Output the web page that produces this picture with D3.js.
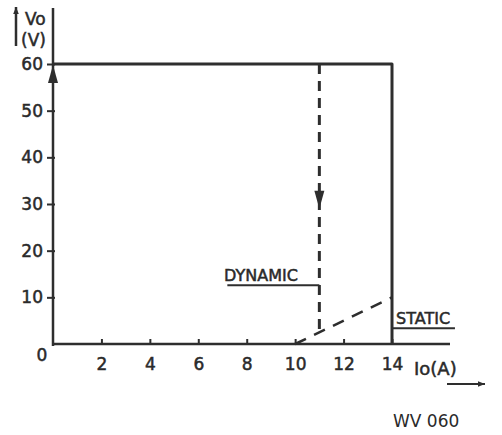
<!DOCTYPE html>
<html>
<head>
<meta charset="utf-8">
<script src="https://cdn.jsdelivr.net/npm/d3@7"></script>
<style>
  body { margin: 0; background: #fff; }
  svg text { font-family: "DejaVu Sans", sans-serif; fill: #2a2a2a; stroke: #2a2a2a; stroke-width: 0.5px; }
  svg text.code { stroke: none; }
</style>
</head>
<body>
<svg class="chart" width="502" height="435"></svg>
<script>
// 軸刻度
const xTicks = [2, 4, 6, 8, 10, 12, 14];
const yTicks = [10, 20, 30, 40, 50, 60];

// STATIC 曲線
const staticI = [0, 14, 14];
const staticV = [60, 60, 0];

// DYNAMIC 曲線 (虛線)
const dynDownI = [11, 11];
const dynDownV = [60, 2.5];
const dynRampI = [10, 14];
const dynRampV = [0, 10];

// 標籤引線
const dynLabelI = [7.2, 11];
const dynLabelV = [12.6, 12.6];
const staLabelI = [14, 16.6];
const staLabelV = [3.4, 3.4];

const ink = "#2e2e2e";

const svg = d3.select(".chart");

const xScale = d3.scaleLinear().domain([0, 14]).range([53, 392]);
const yScale = d3.scaleLinear().domain([0, 60]).range([344, 64]);

const line = d3.line().x(d => xScale(d[0])).y(d => yScale(d[1]));
const zip = (a, b) => a.map((v, i) => [v, b[i]]);

svg.append("defs").append("marker")
    .attr("id", "arr")
    .attr("viewBox", "0 0 10 10")
    .attr("refX", 10).attr("refY", 5)
    .attr("markerWidth", 9).attr("markerHeight", 7)
    .attr("markerUnits", "userSpaceOnUse")
    .attr("orient", "auto")
    .append("path").attr("d", "M0,1 L10,5 L0,9 Z").attr("fill", ink);

// X軸
const xAxis = d3.axisBottom(xScale).tickValues(xTicks).tickSize(0).tickPadding(14);
const gx = svg.append("g").attr("transform", `translate(0, ${yScale(0)})`).call(xAxis);
gx.select(".domain").remove();
gx.selectAll("text").attr("font-size", 17).attr("fill", ink);
gx.selectAll(".tick").append("line").attr("y1", 0).attr("y2", -5)
    .attr("stroke", ink).attr("stroke-width", 2);
svg.append("line")
    .attr("x1", xScale(0)).attr("x2", 450)
    .attr("y1", yScale(0)).attr("y2", yScale(0))
    .attr("stroke", ink).attr("stroke-width", 2.5);

// Y軸
const yAxis = d3.axisLeft(yScale).tickValues(yTicks).tickSize(0).tickPadding(10);
const gy = svg.append("g").attr("transform", `translate(${xScale(0)}, 0)`).call(yAxis);
gy.select(".domain").remove();
gy.selectAll("text").attr("font-size", 17).attr("fill", ink);
gy.selectAll(".tick").append("line").attr("x1", -6).attr("x2", 2)
    .attr("stroke", ink).attr("stroke-width", 2);
svg.append("line")
    .attr("x1", xScale(0)).attr("x2", xScale(0))
    .attr("y1", yScale(0) + 2).attr("y2", 8)
    .attr("stroke", ink).attr("stroke-width", 2.5);

svg.append("text").attr("x", 42).attr("y", 361).attr("text-anchor", "middle")
    .attr("font-size", 17).text("0");

// STATIC
svg.append("path").datum(zip(staticI, staticV)).attr("d", line)
    .attr("fill", "none").attr("stroke", ink).attr("stroke-width", 3)
    .attr("stroke-linejoin", "round");

// 60V 上箭頭
svg.append("path")
    .attr("d", `M${xScale(0) - 5},${yScale(60) + 19} L${xScale(0)},${yScale(60) + 1} L${xScale(0) + 5},${yScale(60) + 19} Z`)
    .attr("fill", ink);

// DYNAMIC
svg.append("path").datum(zip(dynDownI, dynDownV)).attr("d", line)
    .attr("fill", "none").attr("stroke", ink).attr("stroke-width", 3)
    .attr("stroke-dasharray", "10,7");
svg.append("path").datum(zip(dynRampI, dynRampV)).attr("d", line)
    .attr("fill", "none").attr("stroke", ink).attr("stroke-width", 2.5)
    .attr("stroke-dasharray", "12,9");

// 下箭頭
const ax = xScale(11), ay = yScale(29);
svg.append("path")
    .attr("d", `M${ax - 5},${ay - 18} L${ax},${ay} L${ax + 5},${ay - 18} Z`)
    .attr("fill", ink);

// 標籤
svg.append("path").datum(zip(dynLabelI, dynLabelV)).attr("d", line)
    .attr("fill", "none").attr("stroke", ink).attr("stroke-width", 2);
svg.append("text").attr("x", 224).attr("y", 281).attr("font-size", 16).text("DYNAMIC");

svg.append("path").datum(zip(staLabelI, staLabelV)).attr("d", line)
    .attr("fill", "none").attr("stroke", ink).attr("stroke-width", 2);
svg.append("text").attr("x", 396).attr("y", 324).attr("font-size", 16).text("STATIC");

// 軸標題
svg.append("text").attr("x", 414).attr("y", 375).attr("font-size", 18).text("Io(A)");
svg.append("line").attr("x1", 447).attr("x2", 485).attr("y1", 384).attr("y2", 384)
    .attr("stroke", ink).attr("stroke-width", 2).attr("marker-end", "url(#arr)");

svg.append("text").attr("x", 25).attr("y", 25).attr("font-size", 17).text("Vo");
svg.append("text").attr("x", 21).attr("y", 46).attr("font-size", 17).text("(V)");
svg.append("line").attr("x1", 16).attr("x2", 16).attr("y1", 46).attr("y2", 7)
    .attr("stroke", ink).attr("stroke-width", 2.5).attr("marker-end", "url(#arr)");

svg.append("text").attr("class", "code").attr("x", 393).attr("y", 427)
    .attr("font-size", 17).text("WV 060");
</script>
</body>
</html>
